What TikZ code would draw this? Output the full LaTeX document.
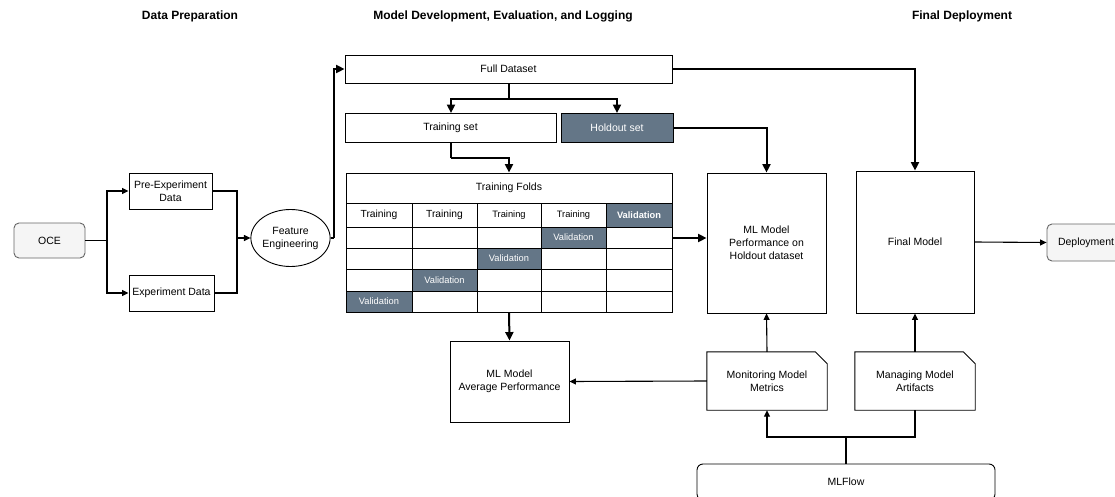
\documentclass[tikz,border=0pt]{standalone}
\usepackage{fontspec}
\setmainfont{Liberation Sans}
\usetikzlibrary{arrows.meta,shapes.geometric}
\definecolor{slate}{HTML}{647687}
\definecolor{softgray}{HTML}{F5F5F5}
\definecolor{edgegray}{HTML}{666666}

% folded-corner frame drawn round a named node
\newcommand\foldedframe[1]{%
  \draw[line width=0.9pt] (#1.north west) -- ([xshift=-12pt]#1.north east)
    -- ([yshift=-12pt]#1.north east) -- (#1.south east) -- (#1.south west) -- cycle;}

\begin{document}
\begin{tikzpicture}[x=1pt,y=-1pt,
  font=\fontsize{10.5}{13}\selectfont,
  box/.style={draw, line width=0.9pt, rectangle, inner sep=0pt, align=center},
  dark/.style={box, fill=slate, text=white},
  term/.style={draw=edgegray, fill=softgray, line width=0.9pt, rounded corners=5pt,
               inner sep=0pt, align=center},
  plain/.style={inner sep=0pt, align=center},
  heavy/.style={line width=2pt, -{Triangle[length=8.5pt,width=8pt]}},
  heavyline/.style={line width=2pt},
  light/.style={line width=1.1pt, -{Triangle[length=6.5pt,width=6pt]}},
  lightline/.style={line width=1.1pt},
  header/.style={font=\fontsize{12}{14}\selectfont\bfseries},
  cellbig/.style={font=\fontsize{10.3}{12}\selectfont},
  cellsmall/.style={font=\fontsize{9.3}{11}\selectfont},
]
\clip (0,0) rectangle (1115,497);
\fill[white] (0,0) rectangle (1115,497);

% section headings
\node[header] (h1) at (190,16) {Data Preparation};
\node[header] (h2) at (503,16) {Model Development, Evaluation, and Logging};
\node[header] (h3) at (962,16) {Final Deployment};

% data preparation
\node[term, minimum width=71pt, minimum height=35pt] (oce) at (49.5,240.5) {OCE};
\node[box, minimum width=83pt, minimum height=36pt] (pre) at (170.5,191) {Pre-Experiment\\Data};
\node[box, minimum width=85pt, minimum height=36pt] (exp) at (171.5,293) {Experiment Data};
\node[draw, ellipse, line width=0.9pt, inner sep=0pt, minimum width=63pt, minimum height=57pt,
      align=center] (fe) at (290.5,238) {Feature\\Engineering};

% datasets
\node[box, minimum width=327pt, minimum height=28pt] (full) at (508.5,69) {Full Dataset};
\node[box, minimum width=211pt, minimum height=29pt] (train) at (450.5,128) {Training set};
\node[dark, minimum width=112pt, minimum height=29pt] (hold) at (617,128) {Holdout set};

% cross-validation table
\node[box, minimum width=326pt, minimum height=139pt] (folds) at (509,242.5) {};
\foreach \xa/\xb/\ya/\yb in {606/672/203/227, 541/606/227/248, 477/541/248/269,
                             412/477/269/291, 346/412/291/312}
  \fill[slate] (\xa,\ya) rectangle (\xb,\yb);
\foreach \y in {203,227,248,269,291}
  \draw[line width=0.9pt] (346,\y) -- (672,\y);
\foreach \x in {412,477,541,606}
  \draw[line width=0.9pt] (\x,203) -- (\x,312);
\draw[line width=0.9pt] (346,173) rectangle (672,312);
\node[plain] (ftitle) at (509,188) {Training Folds};
\node[plain, cellbig] (t1) at (379,215) {Training};
\node[plain, cellbig] (t2) at (444.5,215) {Training};
\node[plain, cellsmall] (t3) at (509,215) {Training};
\node[plain, cellsmall] (t4) at (573.5,215) {Training};
\node[plain, text=white, font=\fontsize{9.3}{11}\selectfont\bfseries] (v1) at (639,215) {Validation};
\node[plain, cellsmall, text=white] (v2) at (573.5,237.5) {Validation};
\node[plain, cellsmall, text=white] (v3) at (509,258.5) {Validation};
\node[plain, cellsmall, text=white] (v4) at (444.5,280) {Validation};
\node[plain, cellsmall, text=white] (v5) at (379,301.5) {Validation};

% evaluation and deployment
\node[box, minimum width=119pt, minimum height=140pt] (perf) at (766.5,243)
  {ML Model\\Performance on\\Holdout dataset};
\node[box, minimum width=118pt, minimum height=142pt] (final) at (915,242) {Final Model};
\node[term, minimum width=78pt, minimum height=37pt] (deploy) at (1086,242.5) {Deployment};
\node[box, minimum width=119pt, minimum height=81pt] (avg) at (509.5,381.5)
  {ML Model\\Average Performance};

% MLFlow tracking
\node[plain, minimum width=120pt, minimum height=58pt] (mon) at (767,381) {Monitoring Model\\Metrics};
\foldedframe{mon}
\node[plain, minimum width=120pt, minimum height=58pt] (man) at (915,381) {Managing Model\\Artifacts};
\foldedframe{man}
\node[draw, line width=0.9pt, rounded corners=6pt, inner sep=0pt, minimum width=298pt,
      minimum height=36pt] (mlflow) at (846,482) {MLFlow};

% connectors: data preparation
\coordinate (split) at (107,240.5);
\coordinate (merge) at (237,238);
\coordinate (rise) at (334,238);
\draw[lightline] (oce.east) -- (split);
\draw[light] (split) |- (pre.west);
\draw[light] (split) |- (exp.west);
\draw[lightline] (pre.east) -| (merge);
\draw[lightline] (exp.east) -| (merge);
\draw[light] (merge) -- (fe.west);
\draw[heavyline] (fe.east) -- (rise);
\draw[heavy] (rise) |- (full.west);

% connectors: dataset split
\coordinate (fork) at (509,99);
\coordinate (bend) at (451,158);
\draw[heavyline] (full.south -| fork) -- (fork);
\draw[heavy] (fork) -| (train.north -| bend);
\draw[heavy] (fork) -| (hold.north);
\draw[heavyline] (train.south -| bend) -- (bend);
\draw[heavy] (bend) -| (folds.north);
\draw[heavy] (hold.east) -| (perf.north);
\draw[heavy] (full.east) -| (final.north);
\draw[heavy] (folds.east |- 0,238) -- (perf.west |- 0,238);
\draw[heavy] (folds.south) -- (avg.north);

% connectors: tracking and deployment
\coordinate (hub) at (846,437);
\draw[light] (mon.west) -- (avg.east);
\draw[light] (mon.north) -- (perf.south);
\draw[light] (man.north) -- (final.south);
\draw[lightline] (mlflow.north) -- (hub);
\draw[light] (hub) -| (mon.south);
\draw[lightline] (hub) -| (man.south);
\draw[light] (final.east) -- (deploy.west);
\end{tikzpicture}
\end{document}
